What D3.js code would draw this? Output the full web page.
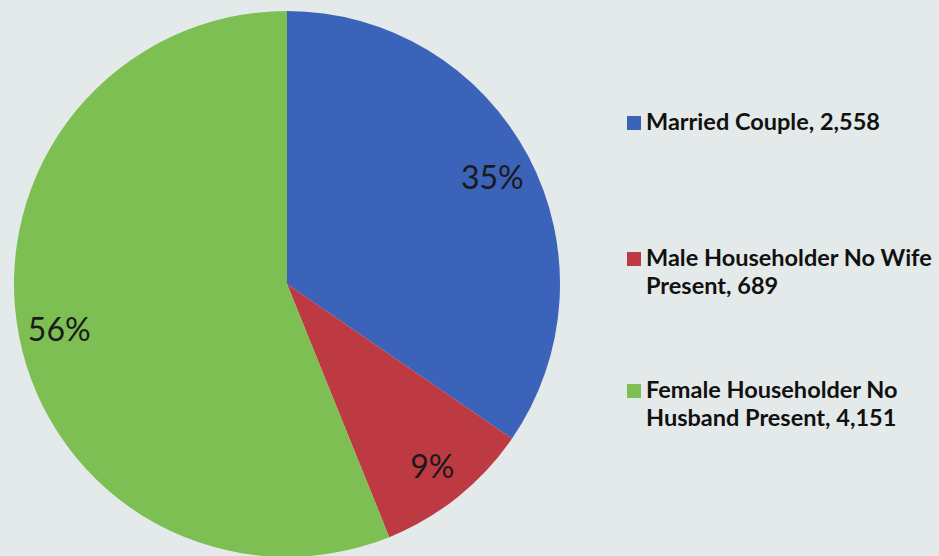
<!DOCTYPE html>
<html>
    <head>
        <script src="https://d3js.org/d3.v7.min.js"></script>
        <style>
            body { margin: 0; background: #e4eaea; }
        </style>
    </head>
    <body>
        <script>
            // household types: counts and shares
            let categories = ["Married Couple", "Male Householder No Wife Present", "Female Householder No Husband Present"];
            let values = [2558, 689, 4151];
            let pctLabels = ["35%", "9%", "56%"];
            // legend text is wrapped over lines like the original
            let legendLines = [
                ["Married Couple, 2,558"],
                ["Male Householder No Wife", "Present, 689"],
                ["Female Householder No", "Husband Present, 4,151"]
            ];
            let colors = ["#3b63b9", "#be3a43", "#7dbf52"];

            var width = 939;
            var height = 556;
            var cx = 287, cy = 284, radius = 273;

            var svg = d3.select('body').append('svg')
                    .attr('width', width)
                    .attr('height', height);

            var color = d3.scaleOrdinal().domain(categories).range(colors);

            var pie = d3.pie().sort(null).value(function (d, i) { return values[i]; });
            var arcs = pie(categories);

            var arc = d3.arc().innerRadius(0).outerRadius(radius);
            var labelArc = d3.arc().innerRadius(radius * 0.85).outerRadius(radius * 0.85);

            var g = svg.append('g').attr('transform', 'translate(' + cx + ',' + cy + ')');

            g.selectAll('path')
                .data(arcs)
                .enter()
                .append('path')
                .attr('d', arc)
                .style('fill', function (d) { return color(d.data); });

            g.selectAll('text')
                .data(arcs)
                .enter()
                .append('text')
                .attr('transform', function (d) { return 'translate(' + labelArc.centroid(d) + ')'; })
                .attr('text-anchor', 'middle')
                .attr('dy', '0.4em')
                .style('font-family', 'Lato, sans-serif')
                .style('font-size', '32px')
                .style('fill', '#1a1a1a')
                .text(function (d, i) { return pctLabels[i]; });

            //Legend:
            var legendTop = [130, 266, 398];
            var lg = svg.selectAll('g.legend')
                .data(categories)
                .enter()
                .append('g')
                .attr('class', 'legend')
                .attr('transform', function (d, i) { return 'translate(627,' + legendTop[i] + ')'; });

            lg.append('rect')
                .attr('x', 0)
                .attr('y', -14)
                .attr('width', 14)
                .attr('height', 14)
                .style('fill', function (d) { return color(d); });

            lg.append('text')
                .style('font-family', 'Lato, sans-serif')
                .style('font-weight', 'bold')
                .style('font-size', '23.5px')
                .style('fill', '#111')
                .selectAll('tspan')
                .data(function (d, i) { return legendLines[i]; })
                .enter()
                .append('tspan')
                .attr('x', 19)
                .attr('y', function (d, i) { return i * 28; })
                .text(function (d) { return d; });
        </script>
    </body>
</html>
